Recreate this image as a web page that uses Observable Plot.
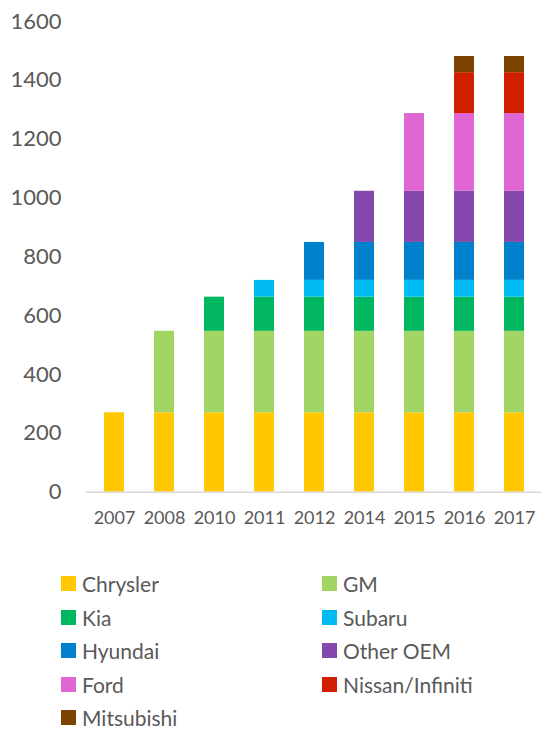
<!DOCTYPE html>
<html>
<head>
<meta charset="utf-8">
<script src="https://cdn.jsdelivr.net/npm/d3@7"></script>
<script src="https://cdn.jsdelivr.net/npm/@observablehq/plot@0.6"></script>
<style>
  html, body { margin: 0; padding: 0; background: #fff; }
  body { width: 541px; height: 731px; position: relative; overflow: hidden; font-family: Lato, "Open Sans", sans-serif; }
  #legend { position: absolute; left: 61px; top: 567px; display: grid; grid-template-columns: 261px 200px; grid-auto-rows: 33.5px; }
  .item { display: flex; align-items: center; color: #595959; font-size: 21px; line-height: 1; white-space: nowrap; }
  .sw { width: 15px; height: 15px; margin-right: 6px; flex: none; }
</style>
</head>
<body>
<div id="chart"></div>
<div id="legend"></div>
<script>
const years = ["2007", "2008", "2010", "2011", "2012", "2014", "2015", "2016", "2017"];
const makers = ["Chrysler", "GM", "Kia", "Subaru", "Hyundai", "Other OEM", "Ford", "Nissan/Infiniti", "Mitsubishi"];
const colors = ["#FFC800", "#A1D664", "#00B760", "#00BCF2", "#0081CB", "#8549AE", "#E066D4", "#D21F00", "#7B4200"];

const chrysler   = [270, 270, 270, 270, 270, 270, 270, 270, 270];
const gm         = [0, 277, 277, 277, 277, 277, 277, 277, 277];
const kia        = [0, 0, 116, 116, 116, 116, 116, 116, 116];
const subaru     = [0, 0, 0, 57, 57, 57, 57, 57, 57];
const hyundai    = [0, 0, 0, 0, 129, 129, 129, 129, 129];
const otherOEM   = [0, 0, 0, 0, 0, 174, 174, 174, 174];
const ford       = [0, 0, 0, 0, 0, 0, 264, 264, 264];
const nissan     = [0, 0, 0, 0, 0, 0, 0, 139, 139];
const mitsubishi = [0, 0, 0, 0, 0, 0, 0, 55, 55];

const yTicks = [0, 200, 400, 600, 800, 1000, 1200, 1400, 1600];

const series = [chrysler, gm, kia, subaru, hyundai, otherOEM, ford, nissan, mitsubishi];
const data = [];
series.forEach((vals, i) => {
  vals.forEach((v, j) => {
    if (v > 0) data.push({ year: years[j], maker: makers[i], value: v });
  });
});

const chart = Plot.plot({
  width: 541,
  height: 545,
  marginLeft: 86,
  marginRight: 0,
  marginTop: 21,
  marginBottom: 53.3,
  style: { fontFamily: "Lato, 'Open Sans', sans-serif", color: "#595959", background: "#fff" },
  x: { domain: years, paddingInner: 0.605, paddingOuter: 0.3025, label: null, tickSize: 0, tickPadding: 19 },
  y: { domain: [0, 1600], ticks: yTicks, label: null, tickSize: 0, tickPadding: 25 },
  color: { domain: makers, range: colors },
  marks: [
    Plot.barY(data, { x: "year", y: "value", fill: "maker", z: "maker", order: makers }),
    Plot.ruleY([0], { stroke: "#D9D9D9", strokeWidth: 1.6 }),
    Plot.axisY({ ticks: yTicks, tickFormat: d3.format("d"), tickSize: 0, tickPadding: 25, fontSize: 22, fill: "#595959", label: null }),
    Plot.axisX({ tickSize: 0, tickPadding: 19, fontSize: 18, fill: "#595959", label: null })
  ]
});
document.getElementById("chart").appendChild(chart);

const legend = document.getElementById("legend");
makers.forEach((m, i) => {
  const it = document.createElement("div");
  it.className = "item";
  const sw = document.createElement("span");
  sw.className = "sw";
  sw.style.background = colors[i];
  const t = document.createElement("span");
  t.textContent = m;
  it.appendChild(sw);
  it.appendChild(t);
  legend.appendChild(it);
});
</script>
</body>
</html>
